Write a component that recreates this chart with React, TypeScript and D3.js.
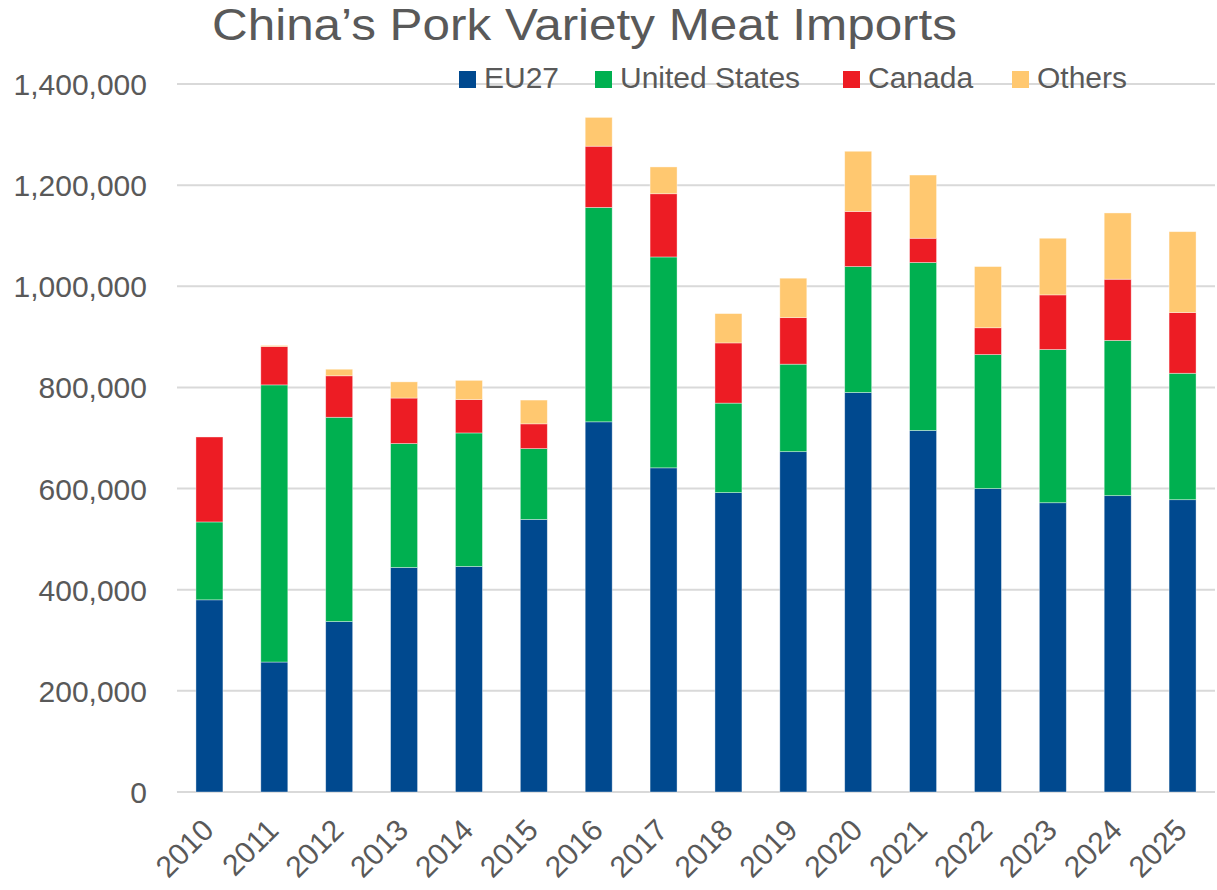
import React from "react";
import * as d3 from "d3";

const years = ["2010","2011","2012","2013","2014","2015","2016","2017","2018","2019","2020","2021","2022","2023","2024","2025"];
const eu27 = [380000, 257000, 337000, 444000, 446000, 539000, 732000, 641000, 592000, 673000, 790000, 715000, 600000, 572000, 586000, 578000];
const unitedStates = [154000, 548000, 404000, 245000, 264000, 140000, 424000, 417000, 177000, 173000, 249000, 332000, 265000, 303000, 307000, 250000];
const canada = [168000, 76000, 82000, 90000, 66000, 49000, 121000, 125000, 119000, 92000, 109000, 48000, 53000, 108000, 121000, 120000];
const others = [0, 2000, 13000, 32000, 38000, 47000, 57000, 53000, 58000, 78000, 119000, 125000, 121000, 112000, 131000, 160000];
const seriesNames = ["EU27", "United States", "Canada", "Others"];
const seriesColors = ["#00498F", "#00B050", "#ED1C24", "#FFC870"];
const yTicks = [0, 200000, 400000, 600000, 800000, 1000000, 1200000, 1400000];
const title = "China\u2019s Pork Variety Meat Imports";

const W = 1217, H = 890;
const left = 177, right = 1215, top = 84, bottom = 792;
const textColor = "#595959";
const font = "'Liberation Sans', Arial, sans-serif";
const legendX = [459, 595, 843, 1012];

export default function App() {
  const rows = years.map((y, i) => ({ year: y, EU27: eu27[i], "United States": unitedStates[i], Canada: canada[i], Others: others[i] }));
  const stacked = d3.stack<any>().keys(seriesNames)(rows);
  const x = d3.scaleBand<string>().domain(years).range([left, right]).paddingInner(0.584).paddingOuter(0.292);
  const y = d3.scaleLinear().domain([0, 1400000]).range([bottom, top]);
  const fmt = d3.format(",");

  return (
    <div style={{ position: "absolute", left: 0, top: 0 }}>
      <svg width={W} height={H} style={{ display: "block", background: "#fff" }} fontFamily={font}>
        <text x={212} y={40} fontSize={44} fill={textColor} textLength={745} lengthAdjust="spacingAndGlyphs">{title}</text>
        {yTicks.map((t) => (
          <g key={t}>
            <line x1={left} x2={right} y1={y(t)} y2={y(t)} stroke="#D9D9D9" strokeWidth={2} />
            <text x={147} y={y(t) + 11} fontSize={30} fill={textColor} textAnchor="end">{fmt(t)}</text>
          </g>
        ))}
        {stacked.map((s, si) => (
          <g key={s.key} fill={seriesColors[si]}>
            {s.map((d, i) => {
              const h = y(d[0]) - y(d[1]);
              if (h <= 0) return null;
              return (
                <rect key={i} x={x(years[i])} y={y(d[1])} width={x.bandwidth()} height={h} stroke="#ffffff" strokeOpacity={0.5} strokeWidth={0.75} />
              );
            })}
          </g>
        ))}
        {years.map((yr) => {
          const cx = (x(yr) as number) + x.bandwidth() / 2;
          return (
            <text key={yr} transform={`translate(${cx + 6},${832}) rotate(-45)`} fontSize={30} fill={textColor} textAnchor="end">{yr}</text>
          );
        })}
        {seriesNames.map((n, i) => (
          <g key={n}>
            <rect x={legendX[i]} y={71} width={17} height={17} fill={seriesColors[i]} />
            <text x={legendX[i] + 25} y={88} fontSize={30} fill={textColor}>{n}</text>
          </g>
        ))}
      </svg>
    </div>
  );
}
